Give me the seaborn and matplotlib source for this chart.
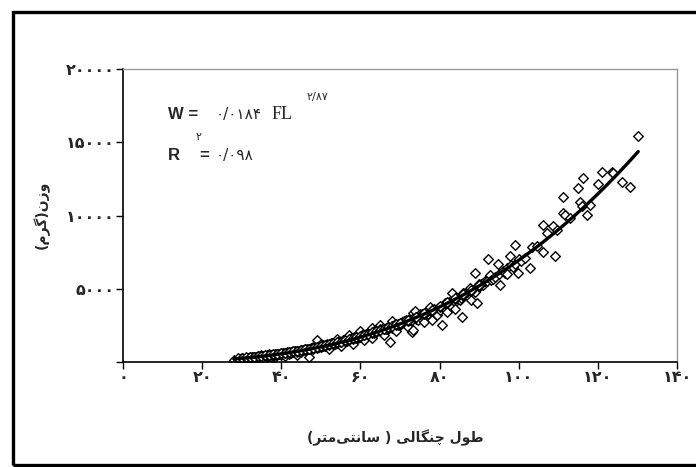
import numpy as np
import pandas as pd
import seaborn as sns
import matplotlib.pyplot as plt
from matplotlib.patches import Rectangle

# fork length (cm) / weight (g), grouped by size
small_len = [28, 29, 29.5, 30, 30, 30.5, 31, 31.5, 32, 32, 32.5, 33, 33, 33.5, 34, 34, 34.5, 34.5,
             35, 35, 35.5, 36, 36, 36.5, 36.5, 37, 37, 37.5, 37.5, 38, 38, 38, 38.5, 39, 39,
             39.5, 39.5, 40, 40, 40.5, 41, 41, 41, 41.5, 42, 42, 42.5, 42.5, 43, 43, 43.5,
             44, 44, 44, 44.5, 44.5, 45, 45, 45, 45.5, 46]
small_wt = [150, 180, 240, 260, 200, 220, 300, 250, 280, 300, 330, 310, 360, 370, 340, 300, 400, 350,
            380, 450, 430, 410, 200, 470, 400, 440, 520, 500, 420, 470, 250, 430, 530, 500, 560,
            580, 520, 560, 510, 610, 590, 380, 640, 650, 620, 560, 690, 600, 660, 720, 720,
            700, 450, 650, 770, 720, 750, 800, 700, 840, 800]

mid_len = [46.5, 47, 47, 47, 47.5, 48, 48, 48.5, 49, 49, 49.5, 49.5, 50, 50, 50.5, 50.5, 51,
           51.5, 51.5, 52, 52, 52.5, 53, 53, 53.5, 53.5, 54, 54, 54.5, 54.5, 55, 55, 55.5,
           56, 56, 56.5, 56.5, 57, 57, 57.5, 57.5, 58, 58, 58.5, 59, 59, 59.5, 59.5, 60,
           60, 60.5, 60.5, 61, 61, 61.5, 62, 62, 62.5, 62.5, 63, 63, 63, 63.5, 63.5, 64, 64,
           64.5, 65, 65, 65, 65.5, 66, 66, 66.5, 66.5, 67, 67, 67.5, 67.5, 68, 68, 68,
           68.5, 69, 69, 69.5, 69.5, 70]
mid_wt = [880, 850, 319, 920, 960, 900, 1000, 1000, 960, 1502, 1080, 1000, 1040, 1200, 1150, 1080, 1100,
          1220, 1150, 1160, 900, 1280, 1230, 1300, 1350, 1250, 1280, 1600, 1420, 1330, 1360, 1100, 1480,
          1420, 1500, 1550, 1450, 1500, 1850, 1620, 1540, 1560, 1250, 1700, 1640, 1720, 1780, 1650, 1720,
          2100, 1850, 1760, 1790, 1500, 1930, 1860, 1950, 2010, 1900, 1940, 1650, 2350, 2100, 2000, 2020, 2150,
          2180, 2100, 2526, 2250, 2260, 2180, 1850, 2350, 2250, 2260, 2400, 1388, 2440, 2350, 2450, 2800,
          2530, 2440, 2100, 2620, 2550, 2520]

large_len = [70.5, 71, 71, 71.5, 72, 72, 72.5, 72.5, 73, 73, 73.4, 73.4, 73.5, 73.8, 74, 74, 74.5,
             74.5, 75, 75, 75.5, 76, 76, 76.5, 76.5, 77, 77, 77.6, 78, 78, 78, 78.5, 79, 79.3,
             79.5, 80, 80, 80.5, 81, 81, 81.5, 82, 82, 82.5, 82.5, 83, 83.1, 83.5, 84, 84, 84,
             84.5, 85.2, 85.5, 85.6, 86, 86, 86.5, 87, 87, 87.7, 88, 88, 88.5, 89, 89, 89.4,
             90, 90, 90.5, 91, 91.1, 91.5, 92, 92.3, 92.7, 93, 93.5, 94, 94.8, 95, 95.3, 96,
             96.5, 97, 97, 97.8, 98, 98.5, 99, 99.1, 99.9, 100, 100.5]
large_wt = [2750, 2650, 2800, 2850, 2750, 2400, 2950, 2850, 2070, 2850, 3324, 2184, 3050, 3502, 2950, 3100, 3150,
            2850, 3050, 3250, 3300, 3150, 2700, 3400, 3250, 3250, 3500, 3775, 3400, 2900, 3550, 3600, 3500, 3208,
            3700, 3700, 3550, 2526, 3850, 3700, 4000, 3900, 3400, 4100, 4000, 3800, 4690, 4200, 4100, 3600, 4300,
            4400, 4232, 4400, 3092, 4500, 4700, 4700, 4600, 4800, 5031, 4850, 4200, 4900, 6096, 4800, 4007,
            5100, 5300, 5300, 5400, 5256, 5500, 5500, 7010, 5939, 5600, 5700, 5800, 6689, 6000, 5256, 6200,
            6100, 6400, 6000, 7236, 6600, 6500, 6700, 7986, 6055, 7000, 6900]

big_len = [101.5, 102.9, 103.3, 104.5, 106.2, 106.2, 107.1, 108.7, 109.2, 109.6, 111.1, 111.3,
           111.7, 113, 115.1, 115.5, 115.9, 116.2, 117.2, 118, 120.1, 121.0, 123.5, 123.9,
           126.0, 128.1, 130.2]
big_wt = [7100, 6396, 7870, 7900, 7529, 9352, 8785, 9283, 7236, 9010, 11284, 10150,
          10034, 9800, 11857, 10942, 10649, 12540, 10034, 10700, 12150, 12990, 12990, 12922,
          12307, 11923, 15427]

# the dense black band hugging the trend line
band_len = [29, 29, 30, 30, 31, 31, 32, 32, 33, 33, 34, 34, 35, 35, 36, 36, 37, 37, 38, 38,
            39, 39, 40, 40, 41, 41, 42, 42, 43, 43, 44, 44, 45, 45, 46, 46, 47, 47, 48, 48,
            49, 49, 50, 50, 51, 51, 52, 52, 53, 53, 54, 54, 55, 55, 56, 56, 57, 57, 58, 58,
            59, 59, 60, 60, 61, 61, 62, 62, 63, 63, 64, 64, 65, 65, 66, 66, 67, 67, 68, 68,
            69, 69, 70, 70, 72, 72, 74, 74, 76, 76, 78, 78, 80, 80, 82, 82, 84, 84, 86, 86,
            88, 88, 90, 90]
band_wt = [240, 250, 270, 285, 300, 310, 330, 345, 355, 370, 385, 395, 410, 425, 440, 455, 475, 490,
           505, 520, 545, 560, 585, 600, 625, 640, 665, 680, 710, 725, 760, 775, 805, 820, 855, 870,
           905, 920, 955, 975, 1010, 1030, 1070, 1090, 1125, 1145, 1185, 1205, 1245, 1270, 1310, 1335,
           1380, 1400, 1445, 1470, 1515, 1540, 1590, 1615, 1665, 1690, 1740, 1775, 1820, 1850, 1900, 1935,
           1985, 2015, 2070, 2105, 2155, 2195, 2245, 2285, 2335, 2380, 2430, 2470, 2525, 2570, 2625, 2670,
           2830, 2880, 3050, 3100, 3280, 3330, 3510, 3570, 3770, 3830, 4020, 4090, 4290, 4360, 4570, 4650,
           4880, 4950, 5180, 5260]

x_ticks = [0, 20, 40, 60, 80, 100, 120, 140]
x_tick_labels = ['۰', '۲۰', '۴۰', '۶۰', '۸۰', '۱۰۰', '۱۲۰', '۱۴۰']
y_ticks = [0, 5000, 10000, 15000, 20000]
y_tick_labels = ['', '۵۰۰۰', '۱۰۰۰۰', '۱۵۰۰۰', '۲۰۰۰۰']

# Persian labels, given as presentation forms in visual order (matplotlib has no shaping)
x_label = '(\uFEAE\uFE98\uFEE3\uFEF0\uFE98\uFEE7\uFE8E\uFEB3 ) \uFEF0\uFEDF\uFE8E\uFB95\uFEE8\uFB7C \uFEDD\uFEEE\uFEC3'
y_label = '(\uFEE1\uFEAE\uFB94)\uFEE5\uFEAF\uFEED'

df = pd.DataFrame({
    'length': small_len + mid_len + large_len + big_len + band_len,
    'weight': small_wt + mid_wt + large_wt + big_wt + band_wt,
})

# power-law trend line fitted to the points
b, log_a = np.polyfit(np.log(df['length']), np.log(df['weight']), 1)
fit_x = np.linspace(df['length'].min(), df['length'].max(), 200)
fit = pd.DataFrame({'length': fit_x, 'weight': np.exp(log_a) * fit_x ** b})

sns.set_style('white')
plt.rcParams['font.family'] = ['DejaVu Sans']

fig = plt.figure(figsize=(6.96, 4.67), dpi=100)
fig.patches.append(Rectangle((13 / 696, 2 / 467), 1.2, 453 / 467, transform=fig.transFigure,
                             fill=False, edgecolor='black', linewidth=2.4))

ax = fig.add_axes([0.1767, 0.2248, 0.796, 0.6274])
sns.scatterplot(data=df, x='length', y='weight', marker='D', s=24, facecolor='white',
                edgecolor='black', linewidth=1.0, ax=ax, zorder=2)
sns.lineplot(data=fit, x='length', y='weight', color='black', linewidth=2.4, ax=ax, zorder=3)

ax.set_xlim(0, 140)
ax.set_ylim(0, 20000)
ax.set_xticks(x_ticks)
ax.set_xticklabels(x_tick_labels, fontsize=11.5, fontweight='bold')
ax.set_yticks(y_ticks)
ax.set_yticklabels(y_tick_labels, fontsize=11.5, fontweight='bold')
ax.tick_params(axis='both', direction='out', length=5, width=1, color='black', pad=1,
               left=True, bottom=True)
ax.set_xlabel('')
ax.set_ylabel('')
for side in ['left', 'bottom']:
    ax.spines[side].set_color('black')
    ax.spines[side].set_linewidth(1.2)
for side in ['top', 'right']:
    ax.spines[side].set_color('#999999')
    ax.spines[side].set_linewidth(1.0)

fig.text(395 / 696, 1 - 438 / 467, x_label, ha='center', va='center', fontsize=10, fontweight='bold')
fig.text(42 / 696, 1 - 215 / 467, y_label, ha='center', va='center', fontsize=10, fontweight='bold',
         rotation=90)

# equation box
fig.text(168 / 696, 1 - 114 / 467, 'W =', family='Liberation Sans', fontweight='bold', fontsize=12,
         va='center')
fig.text(216 / 696, 1 - 114 / 467, '۰/۰۱۸۴', fontsize=11, va='center')
fig.text(272 / 696, 1 - 114 / 467, 'FL', family='Liberation Serif', fontsize=13, va='center')
fig.text(307 / 696, 1 - 97 / 467, '۲/۸۷', fontsize=8, va='center')
fig.text(168 / 696, 1 - 155 / 467, 'R', family='Liberation Sans', fontweight='bold', fontsize=12,
         va='center')
fig.text(196 / 696, 1 - 137 / 467, '۲', fontsize=8, va='center')
fig.text(199 / 696, 1 - 155 / 467, '=', family='Liberation Sans', fontweight='bold', fontsize=12,
         va='center')
fig.text(216 / 696, 1 - 155 / 467, '۰/۰۹۸', fontsize=11, va='center')

fig.savefig('out.png', dpi=100)
